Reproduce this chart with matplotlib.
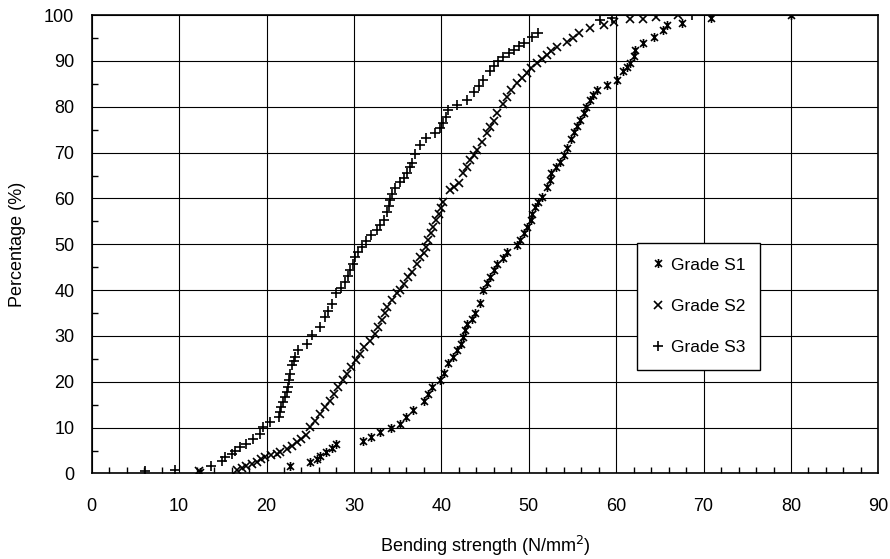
import matplotlib.pyplot as plt
from matplotlib.path import Path
from matplotlib.ticker import MultipleLocator

plt.rcParams['font.family'] = ['Liberation Sans', 'DejaVu Sans']

# Grade S1 (asterisk)
s1_strength = [12.4, 22.7, 25.0, 25.8, 26.1, 26.8, 27.5, 28.0, 31.0, 32.0, 33.0, 34.2, 35.3, 36.0, 36.8,
               38.0, 38.5, 38.9, 39.9, 40.3, 40.8, 41.3, 41.8, 42.2, 42.5, 42.7, 42.9, 43.5, 43.8, 44.4,
               44.8, 45.2, 45.6, 46.0, 46.4, 47.0, 47.5, 48.6, 49.0, 49.4, 49.8, 50.2, 50.4, 50.7, 51.1,
               51.5, 52.1, 52.4, 52.6, 53.1, 53.6, 54.0, 54.4, 54.8, 55.2, 55.5, 55.9, 56.3, 56.6, 57.0,
               57.4, 57.8, 58.9, 60.1, 60.8, 61.2, 61.6, 62.0, 62.2, 63.1, 64.3, 65.4, 65.8, 67.5, 70.8, 80.0]
s1_percent = [0.3, 1.7, 2.5, 3.2, 3.9, 4.7, 5.6, 6.5, 7.0, 8.0, 9.0, 10.0, 10.9, 12.4, 13.8,
              15.9, 17.4, 18.9, 20.3, 22.0, 24.0, 25.4, 26.9, 28.3, 29.8, 31.2, 32.7, 33.6, 34.9, 37.1,
              40.0, 41.5, 42.9, 44.3, 45.8, 47.1, 48.4, 49.8, 51.0, 52.4, 53.8, 55.3, 56.7, 58.2, 59.3,
              60.4, 62.6, 64.0, 65.5, 66.8, 68.0, 69.5, 71.0, 73.0, 74.4, 75.7, 77.2, 78.6, 80.0, 81.5,
              82.6, 83.7, 84.8, 85.9, 87.7, 88.6, 89.5, 91.0, 92.4, 93.9, 95.3, 96.8, 97.9, 98.2, 99.3, 100.0]

# Grade S2 (cross)
s2_strength = [12.3, 16.6, 17.2, 17.7, 18.3, 18.9, 19.4, 19.8, 20.5, 21.2, 21.6, 22.3, 22.9, 23.5, 24.0,
               24.5, 25.0, 25.5, 26.1, 26.7, 27.3, 27.7, 28.2, 28.7, 29.2, 29.7, 30.2, 30.7, 31.2, 31.8,
               32.4, 32.8, 33.2, 33.5, 33.8, 34.3, 34.9, 35.3, 35.7, 36.2, 36.6, 37.2, 37.6, 38.0, 38.3,
               38.5, 38.8, 39.1, 39.4, 39.7, 40.0, 40.2, 41.0, 41.5, 42.0, 42.5, 42.9, 43.3, 43.7, 44.1,
               44.6, 45.2, 45.6, 46.0, 46.4, 47.0, 47.5, 48.0, 48.6, 49.2, 49.8, 50.3, 50.9, 51.5, 52.1,
               52.6, 53.2, 54.4, 55.1, 55.7, 57.0, 58.6, 59.7, 61.6, 63.1, 64.5, 67.1]
s2_percent = [0.5, 0.7, 1.2, 1.7, 2.1, 2.5, 3.1, 3.6, 4.0, 4.3, 4.7, 5.4, 6.0, 6.8, 7.6,
              8.5, 10.1, 11.5, 13.0, 14.5, 15.9, 17.4, 18.9, 20.3, 21.8, 23.2, 24.7, 26.1, 27.6, 29.0,
              30.5, 32.0, 33.4, 34.9, 36.3, 37.8, 39.3, 40.0, 41.4, 42.9, 44.0, 45.8, 47.3, 48.0, 49.5,
              50.9, 52.4, 53.8, 55.3, 56.7, 58.0, 59.3, 61.8, 62.5, 63.3, 65.5, 66.9, 68.4, 69.5, 70.6,
              72.4, 74.2, 75.6, 77.0, 78.6, 80.7, 82.2, 83.6, 85.1, 86.2, 87.3, 88.4, 89.5, 90.4, 91.3,
              92.2, 93.1, 94.2, 95.1, 96.1, 97.2, 97.9, 98.6, 99.1, 99.1, 99.6, 100.0]

# Grade S3 (plus)
s3_strength = [6.1, 9.5, 13.6, 14.9, 15.3, 16.0, 16.4, 17.0, 17.7, 18.5, 19.3, 19.6, 20.4, 21.4, 21.6,
               21.7, 21.9, 22.1, 22.3, 22.5, 22.6, 22.7, 22.9, 23.1, 23.3, 23.6, 24.6, 25.2, 26.1, 26.7,
               27.0, 27.5, 28.0, 28.5, 29.0, 29.3, 29.6, 29.9, 30.1, 30.5, 30.9, 31.4, 31.9, 32.6, 33.0,
               33.4, 33.8, 34.0, 34.1, 34.4, 34.7, 35.3, 35.7, 36.1, 36.4, 36.6, 37.0, 37.6, 38.3, 39.3,
               39.8, 40.2, 40.5, 40.8, 41.8, 42.9, 43.7, 44.3, 44.8, 45.6, 46.0, 46.5, 47.1, 47.7, 48.3,
               48.9, 49.4, 50.4, 51.1, 58.2, 59.5, 68.7]
s3_percent = [0.5, 0.8, 1.7, 2.8, 3.6, 4.3, 5.0, 5.8, 6.5, 7.6, 8.7, 10.1, 11.2, 12.3, 13.4,
              14.5, 15.6, 16.7, 17.8, 18.9, 20.3, 21.8, 23.6, 24.5, 25.4, 26.9, 28.3, 30.2, 32.0, 34.1,
              35.5, 37.0, 39.3, 40.5, 41.8, 43.1, 44.4, 45.8, 47.3, 48.3, 49.4, 50.7, 52.0, 53.1, 54.2,
              55.3, 57.1, 58.3, 59.6, 60.9, 62.2, 63.6, 64.5, 65.5, 66.9, 67.7, 69.8, 71.7, 73.1, 74.2,
              75.3, 76.4, 77.8, 79.3, 80.4, 81.5, 83.3, 84.6, 85.9, 87.7, 88.8, 89.9, 90.8, 91.7, 92.4,
              93.2, 93.9, 95.3, 96.2, 99.0, 99.3, 100.0]

# excel style star: an x with a vertical bar through it
star = Path([(-0.5, -0.5), (0.5, 0.5), (-0.5, 0.5), (0.5, -0.5), (0, -0.65), (0, 0.65)],
            [Path.MOVETO, Path.LINETO, Path.MOVETO, Path.LINETO, Path.MOVETO, Path.LINETO])

fig, ax = plt.subplots(figsize=(8.9, 5.59), dpi=100)
fig.subplots_adjust(left=0.103, right=0.987, top=0.973, bottom=0.153)

ax.plot(s1_strength, s1_percent, linestyle='none', marker=star, markersize=6.5,
        markeredgewidth=1.2, color='black', label='Grade S1')
ax.plot(s2_strength, s2_percent, linestyle='none', marker='x', markersize=5.5,
        markeredgewidth=1.2, color='black', label='Grade S2')
ax.plot(s3_strength, s3_percent, linestyle='none', marker='+', markersize=7,
        markeredgewidth=1.2, color='black', label='Grade S3')

ax.set_xlim(0, 90)
ax.set_ylim(0, 100)
ax.xaxis.set_major_locator(MultipleLocator(10))
ax.xaxis.set_minor_locator(MultipleLocator(2))
ax.yaxis.set_major_locator(MultipleLocator(10))
ax.yaxis.set_minor_locator(MultipleLocator(5))
ax.tick_params(which='major', length=0, labelsize=13)
ax.tick_params(axis='x', which='major', pad=18)
ax.tick_params(axis='y', which='major', pad=12.5)
ax.tick_params(which='minor', direction='in', length=4, width=1)
ax.grid(True, which='major', color='black', linewidth=0.8)
for sp in ax.spines.values():
    sp.set_linewidth(1.2)

ax.set_xlabel('Bending strength (N/mm$^2$)', fontsize=13, labelpad=13)
ax.set_ylabel('Percentage (%)', fontsize=13, labelpad=13)

leg = ax.legend(loc='center', bbox_to_anchor=(0.771, 0.365), fontsize=12.5, frameon=True,
                fancybox=False, edgecolor='black', framealpha=1, labelspacing=1.5,
                handlelength=0.7, handletextpad=0.4, borderpad=0.85, borderaxespad=0)
leg.get_frame().set_linewidth(1.0)

plt.savefig('out.png', dpi=100)
